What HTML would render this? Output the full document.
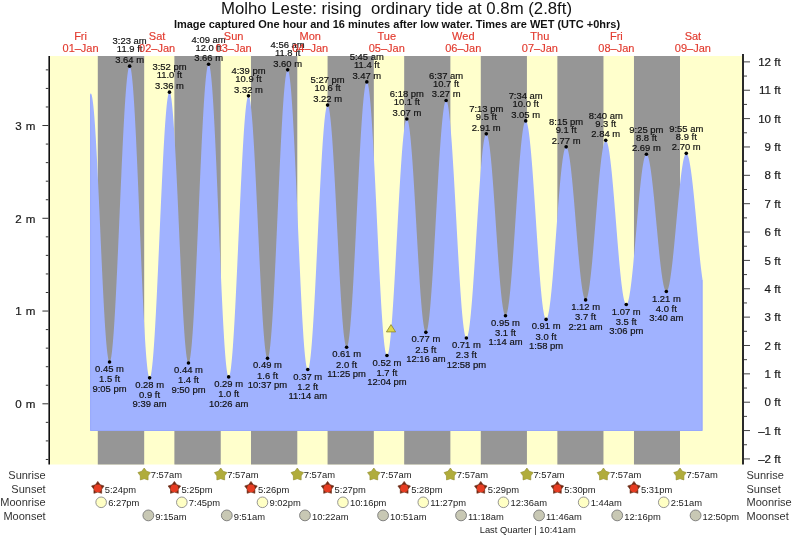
<!DOCTYPE html>
<html><head><meta charset="utf-8"><title>Molho Leste tide</title><style>html,body{margin:0;padding:0;background:#fff;}svg{display:block;}</style></head><body>
<svg width="793" height="537" viewBox="0 0 793 537">
<rect x="0" y="0" width="793" height="537" fill="#ffffff"/>
<rect x="50" y="56" width="692" height="408.5" fill="#ffffcc"/>
<rect x="97.79" y="56" width="46.40" height="408.5" fill="#969696"/>
<rect x="174.39" y="56" width="46.35" height="408.5" fill="#969696"/>
<rect x="250.99" y="56" width="46.30" height="408.5" fill="#969696"/>
<rect x="327.58" y="56" width="46.24" height="408.5" fill="#969696"/>
<rect x="404.18" y="56" width="46.19" height="408.5" fill="#969696"/>
<rect x="480.78" y="56" width="46.14" height="408.5" fill="#969696"/>
<rect x="557.37" y="56" width="46.09" height="408.5" fill="#969696"/>
<rect x="633.97" y="56" width="46.03" height="408.5" fill="#969696"/>
<path d="M90.14,431.0 L90.14,94.20 L90.54,93.61 L90.94,93.57 L91.34,94.10 L91.73,95.24 L92.13,96.96 L92.53,99.27 L92.93,102.15 L93.33,105.59 L93.73,109.57 L94.13,114.08 L94.52,119.09 L94.92,124.59 L95.32,130.55 L95.72,136.95 L96.12,143.74 L96.52,150.92 L96.92,158.43 L97.32,166.25 L97.71,174.35 L98.11,182.69 L98.51,191.22 L98.91,199.92 L99.31,208.74 L99.71,217.65 L100.11,226.60 L100.50,235.56 L100.90,244.49 L101.30,253.34 L101.70,262.07 L102.10,270.65 L102.50,279.05 L102.90,287.21 L103.30,295.11 L103.69,302.71 L104.09,309.97 L104.49,316.87 L104.89,323.38 L105.29,329.45 L105.69,335.08 L106.09,340.22 L106.48,344.87 L106.88,348.99 L107.28,352.58 L107.68,355.60 L108.08,358.06 L108.48,359.94 L108.88,361.23 L109.28,361.93 L109.67,362.03 L110.07,361.55 L110.47,360.49 L110.87,358.87 L111.27,356.69 L111.67,353.95 L112.07,350.67 L112.46,346.86 L112.86,342.53 L113.26,337.70 L113.66,332.40 L114.06,326.63 L114.46,320.43 L114.86,313.82 L115.26,306.81 L115.65,299.45 L116.05,291.76 L116.45,283.76 L116.85,275.49 L117.25,266.99 L117.65,258.28 L118.05,249.40 L118.44,240.38 L118.84,231.26 L119.24,222.07 L119.64,212.85 L120.04,203.64 L120.44,194.47 L120.84,185.37 L121.24,176.38 L121.63,167.54 L122.03,158.89 L122.43,150.44 L122.83,142.25 L123.23,134.33 L123.63,126.72 L124.03,119.46 L124.42,112.56 L124.82,106.05 L125.22,99.97 L125.62,94.32 L126.02,89.15 L126.42,84.45 L126.82,80.27 L127.22,76.60 L127.61,73.46 L128.01,70.88 L128.41,68.84 L128.81,67.38 L129.21,66.48 L129.61,66.15 L130.01,66.42 L130.40,67.30 L130.80,68.78 L131.20,70.87 L131.60,73.55 L132.00,76.81 L132.40,80.64 L132.80,85.03 L133.20,89.95 L133.59,95.39 L133.99,101.33 L134.39,107.75 L134.79,114.61 L135.19,121.89 L135.59,129.57 L135.99,137.60 L136.38,145.97 L136.78,154.64 L137.18,163.57 L137.58,172.74 L137.98,182.09 L138.38,191.60 L138.78,201.23 L139.17,210.95 L139.57,220.70 L139.97,230.46 L140.37,240.19 L140.77,249.85 L141.17,259.39 L141.57,268.79 L141.97,278.01 L142.36,287.01 L142.76,295.75 L143.16,304.20 L143.56,312.33 L143.96,320.10 L144.36,327.49 L144.76,334.47 L145.15,341.00 L145.55,347.07 L145.95,352.64 L146.35,357.70 L146.75,362.23 L147.15,366.21 L147.55,369.63 L147.95,372.46 L148.34,374.70 L148.74,376.35 L149.14,377.39 L149.54,377.81 L149.94,377.64 L150.34,376.90 L150.74,375.60 L151.13,373.73 L151.53,371.31 L151.93,368.35 L152.33,364.85 L152.73,360.84 L153.13,356.32 L153.53,351.32 L153.93,345.86 L154.32,339.95 L154.72,333.63 L155.12,326.91 L155.52,319.82 L155.92,312.40 L156.32,304.67 L156.72,296.66 L157.11,288.40 L157.51,279.93 L157.91,271.28 L158.31,262.49 L158.71,253.58 L159.11,244.61 L159.51,235.59 L159.91,226.57 L160.30,217.59 L160.70,208.67 L161.10,199.86 L161.50,191.19 L161.90,182.69 L162.30,174.41 L162.70,166.36 L163.09,158.59 L163.49,151.12 L163.89,143.99 L164.29,137.22 L164.69,130.84 L165.09,124.87 L165.49,119.35 L165.89,114.28 L166.28,109.70 L166.68,105.62 L167.08,102.05 L167.48,99.01 L167.88,96.52 L168.28,94.58 L168.68,93.19 L169.07,92.38 L169.47,92.13 L169.87,92.46 L170.27,93.37 L170.67,94.87 L171.07,96.94 L171.47,99.58 L171.87,102.77 L172.26,106.50 L172.66,110.76 L173.06,115.52 L173.46,120.77 L173.86,126.48 L174.26,132.63 L174.66,139.19 L175.05,146.13 L175.45,153.42 L175.85,161.04 L176.25,168.94 L176.65,177.10 L177.05,185.48 L177.45,194.03 L177.85,202.74 L178.24,211.55 L178.64,220.43 L179.04,229.34 L179.44,238.24 L179.84,247.10 L180.24,255.87 L180.64,264.52 L181.03,273.01 L181.43,281.30 L181.83,289.36 L182.23,297.16 L182.63,304.65 L183.03,311.80 L183.43,318.60 L183.83,324.99 L184.22,330.97 L184.62,336.50 L185.02,341.55 L185.42,346.12 L185.82,350.16 L186.22,353.68 L186.62,356.65 L187.01,359.07 L187.41,360.91 L187.81,362.17 L188.21,362.86 L188.61,362.95 L189.01,362.47 L189.41,361.41 L189.81,359.79 L190.20,357.59 L190.60,354.84 L191.00,351.55 L191.40,347.72 L191.80,343.38 L192.20,338.53 L192.60,333.20 L192.99,327.41 L193.39,321.18 L193.79,314.54 L194.19,307.50 L194.59,300.10 L194.99,292.37 L195.39,284.33 L195.79,276.03 L196.18,267.48 L196.58,258.72 L196.98,249.78 L197.38,240.71 L197.78,231.54 L198.18,222.29 L198.58,213.01 L198.97,203.73 L199.37,194.50 L199.77,185.33 L200.17,176.28 L200.57,167.37 L200.97,158.63 L201.37,150.11 L201.76,141.84 L202.16,133.84 L202.56,126.15 L202.96,118.80 L203.36,111.82 L203.76,105.23 L204.16,99.06 L204.56,93.33 L204.95,88.06 L205.35,83.29 L205.75,79.01 L206.15,75.25 L206.55,72.03 L206.95,69.36 L207.35,67.24 L207.74,65.69 L208.14,64.71 L208.54,64.31 L208.94,64.49 L209.34,65.29 L209.74,66.69 L210.14,68.69 L210.54,71.28 L210.93,74.46 L211.33,78.20 L211.73,82.51 L212.13,87.35 L212.53,92.71 L212.93,98.58 L213.33,104.92 L213.72,111.71 L214.12,118.92 L214.52,126.54 L214.92,134.52 L215.32,142.83 L215.72,151.45 L216.12,160.34 L216.52,169.47 L216.91,178.79 L217.31,188.28 L217.71,197.90 L218.11,207.60 L218.51,217.36 L218.91,227.12 L219.31,236.86 L219.70,246.54 L220.10,256.12 L220.50,265.56 L220.90,274.82 L221.30,283.87 L221.70,292.67 L222.10,301.20 L222.50,309.40 L222.89,317.26 L223.29,324.75 L223.69,331.82 L224.09,338.46 L224.49,344.65 L224.89,350.34 L225.29,355.53 L225.68,360.20 L226.08,364.32 L226.48,367.87 L226.88,370.86 L227.28,373.25 L227.68,375.05 L228.08,376.25 L228.48,376.83 L228.87,376.82 L229.27,376.24 L229.67,375.10 L230.07,373.41 L230.47,371.17 L230.87,368.39 L231.27,365.09 L231.66,361.28 L232.06,356.96 L232.46,352.17 L232.86,346.91 L233.26,341.21 L233.66,335.10 L234.06,328.59 L234.46,321.71 L234.85,314.49 L235.25,306.96 L235.65,299.15 L236.05,291.09 L236.45,282.81 L236.85,274.34 L237.25,265.73 L237.64,256.99 L238.04,248.18 L238.44,239.32 L238.84,230.44 L239.24,221.59 L239.64,212.80 L240.04,204.10 L240.44,195.53 L240.83,187.12 L241.23,178.91 L241.63,170.93 L242.03,163.21 L242.43,155.78 L242.83,148.68 L243.23,141.92 L243.62,135.54 L244.02,129.56 L244.42,124.01 L244.82,118.91 L245.22,114.27 L245.62,110.12 L246.02,106.48 L246.42,103.35 L246.81,100.75 L247.21,98.70 L247.61,97.19 L248.01,96.24 L248.41,95.85 L248.81,96.02 L249.21,96.76 L249.60,98.06 L250.00,99.92 L250.40,102.33 L250.80,105.28 L251.20,108.76 L251.60,112.75 L252.00,117.24 L252.40,122.20 L252.79,127.62 L253.19,133.47 L253.59,139.72 L253.99,146.35 L254.39,153.33 L254.79,160.63 L255.19,168.22 L255.58,176.06 L255.98,184.12 L256.38,192.37 L256.78,200.77 L257.18,209.28 L257.58,217.87 L257.98,226.50 L258.38,235.14 L258.77,243.74 L259.17,252.26 L259.57,260.68 L259.97,268.95 L260.37,277.04 L260.77,284.92 L261.17,292.54 L261.56,299.88 L261.96,306.91 L262.36,313.59 L262.76,319.89 L263.16,325.80 L263.56,331.27 L263.96,336.30 L264.36,340.85 L264.75,344.91 L265.15,348.46 L265.55,351.48 L265.95,353.97 L266.35,355.90 L266.75,357.28 L267.15,358.10 L267.54,358.35 L267.94,358.03 L268.34,357.16 L268.74,355.74 L269.14,353.77 L269.54,351.26 L269.94,348.22 L270.33,344.66 L270.73,340.59 L271.13,336.04 L271.53,331.02 L271.93,325.54 L272.33,319.64 L272.73,313.32 L273.13,306.63 L273.52,299.57 L273.92,292.19 L274.32,284.50 L274.72,276.54 L275.12,268.34 L275.52,259.93 L275.92,251.35 L276.31,242.62 L276.71,233.77 L277.11,224.86 L277.51,215.90 L277.91,206.93 L278.31,198.00 L278.71,189.12 L279.11,180.34 L279.50,171.69 L279.90,163.21 L280.30,154.92 L280.70,146.86 L281.10,139.06 L281.50,131.56 L281.90,124.36 L282.29,117.52 L282.69,111.05 L283.09,104.98 L283.49,99.33 L283.89,94.12 L284.29,89.38 L284.69,85.12 L285.09,81.36 L285.48,78.11 L285.88,75.38 L286.28,73.20 L286.68,71.55 L287.08,70.46 L287.48,69.92 L287.88,69.95 L288.27,70.55 L288.67,71.73 L289.07,73.49 L289.47,75.81 L289.87,78.70 L290.27,82.13 L290.67,86.09 L291.07,90.57 L291.46,95.56 L291.86,101.03 L292.26,106.95 L292.66,113.32 L293.06,120.10 L293.46,127.26 L293.86,134.79 L294.25,142.64 L294.65,150.80 L295.05,159.22 L295.45,167.87 L295.85,176.73 L296.25,185.75 L296.65,194.91 L297.05,204.16 L297.44,213.47 L297.84,222.81 L298.24,232.13 L298.64,241.41 L299.04,250.60 L299.44,259.67 L299.84,268.59 L300.23,277.31 L300.63,285.81 L301.03,294.06 L301.43,302.01 L301.83,309.65 L302.23,316.94 L302.63,323.84 L303.03,330.35 L303.42,336.42 L303.82,342.04 L304.22,347.19 L304.62,351.84 L305.02,355.97 L305.42,359.58 L305.82,362.65 L306.21,365.15 L306.61,367.10 L307.01,368.47 L307.41,369.26 L307.81,369.47 L308.21,369.14 L308.61,368.28 L309.01,366.89 L309.40,364.99 L309.80,362.58 L310.20,359.67 L310.60,356.28 L311.00,352.40 L311.40,348.07 L311.80,343.30 L312.19,338.10 L312.59,332.51 L312.99,326.53 L313.39,320.19 L313.79,313.53 L314.19,306.56 L314.59,299.32 L314.99,291.83 L315.38,284.12 L315.78,276.22 L316.18,268.17 L316.58,259.99 L316.98,251.73 L317.38,243.41 L317.78,235.06 L318.17,226.72 L318.57,218.42 L318.97,210.20 L319.37,202.09 L319.77,194.12 L320.17,186.32 L320.57,178.72 L320.97,171.36 L321.36,164.26 L321.76,157.45 L322.16,150.96 L322.56,144.81 L322.96,139.04 L323.36,133.65 L323.76,128.68 L324.15,124.14 L324.55,120.05 L324.95,116.43 L325.35,113.30 L325.75,110.65 L326.15,108.52 L326.55,106.89 L326.95,105.79 L327.34,105.21 L327.74,105.15 L328.14,105.63 L328.54,106.62 L328.94,108.13 L329.34,110.15 L329.74,112.68 L330.13,115.69 L330.53,119.19 L330.93,123.14 L331.33,127.55 L331.73,132.38 L332.13,137.61 L332.53,143.23 L332.92,149.21 L333.32,155.52 L333.72,162.14 L334.12,169.04 L334.52,176.18 L334.92,183.54 L335.32,191.08 L335.72,198.78 L336.11,206.59 L336.51,214.49 L336.91,222.44 L337.31,230.40 L337.71,238.35 L338.11,246.24 L338.51,254.05 L338.90,261.74 L339.30,269.27 L339.70,276.61 L340.10,283.74 L340.50,290.62 L340.90,297.22 L341.30,303.51 L341.70,309.47 L342.09,315.06 L342.49,320.27 L342.89,325.08 L343.29,329.45 L343.69,333.38 L344.09,336.84 L344.49,339.83 L344.88,342.32 L345.28,344.31 L345.68,345.79 L346.08,346.75 L346.48,347.19 L346.88,347.10 L347.28,346.51 L347.68,345.41 L348.07,343.81 L348.47,341.71 L348.87,339.12 L349.27,336.05 L349.67,332.52 L350.07,328.53 L350.47,324.10 L350.86,319.26 L351.26,314.01 L351.66,308.38 L352.06,302.38 L352.46,296.06 L352.86,289.41 L353.26,282.48 L353.66,275.29 L354.05,267.87 L354.45,260.24 L354.85,252.43 L355.25,244.48 L355.65,236.41 L356.05,228.26 L356.45,220.06 L356.84,211.84 L357.24,203.63 L357.64,195.46 L358.04,187.36 L358.44,179.36 L358.84,171.51 L359.24,163.82 L359.64,156.32 L360.03,149.05 L360.43,142.02 L360.83,135.28 L361.23,128.84 L361.63,122.74 L362.03,116.98 L362.43,111.60 L362.82,106.62 L363.22,102.05 L363.62,97.91 L364.02,94.22 L364.42,91.00 L364.82,88.25 L365.22,85.98 L365.62,84.21 L366.01,82.94 L366.41,82.18 L366.81,81.92 L367.21,82.19 L367.61,82.98 L368.01,84.30 L368.41,86.13 L368.80,88.48 L369.20,91.33 L369.60,94.67 L370.00,98.50 L370.40,102.78 L370.80,107.52 L371.20,112.68 L371.60,118.26 L371.99,124.22 L372.39,130.55 L372.79,137.22 L373.19,144.20 L373.59,151.48 L373.99,159.01 L374.39,166.77 L374.78,174.73 L375.18,182.87 L375.58,191.14 L375.98,199.52 L376.38,207.97 L376.78,216.46 L377.18,224.97 L377.58,233.45 L377.97,241.87 L378.37,250.20 L378.77,258.41 L379.17,266.47 L379.57,274.35 L379.97,282.01 L380.37,289.42 L380.76,296.56 L381.16,303.40 L381.56,309.92 L381.96,316.08 L382.36,321.86 L382.76,327.25 L383.16,332.22 L383.56,336.75 L383.95,340.82 L384.35,344.43 L384.75,347.54 L385.15,350.16 L385.55,352.27 L385.95,353.87 L386.35,354.94 L386.74,355.49 L387.14,355.51 L387.54,355.06 L387.94,354.14 L388.34,352.76 L388.74,350.92 L389.14,348.63 L389.54,345.89 L389.93,342.73 L390.33,339.14 L390.73,335.16 L391.13,330.78 L391.53,326.03 L391.93,320.94 L392.33,315.50 L392.72,309.76 L393.12,303.73 L393.52,297.44 L393.92,290.91 L394.32,284.17 L394.72,277.24 L395.12,270.15 L395.51,262.93 L395.91,255.61 L396.31,248.22 L396.71,240.78 L397.11,233.33 L397.51,225.90 L397.91,218.51 L398.31,211.19 L398.70,203.98 L399.10,196.90 L399.50,189.99 L399.90,183.26 L400.30,176.74 L400.70,170.46 L401.10,164.45 L401.49,158.73 L401.89,153.32 L402.29,148.24 L402.69,143.52 L403.09,139.17 L403.49,135.21 L403.89,131.65 L404.29,128.51 L404.68,125.81 L405.08,123.54 L405.48,121.73 L405.88,120.38 L406.28,119.49 L406.68,119.06 L407.08,119.11 L407.47,119.62 L407.87,120.58 L408.27,122.01 L408.67,123.88 L409.07,126.19 L409.47,128.93 L409.87,132.09 L410.27,135.66 L410.66,139.62 L411.06,143.95 L411.46,148.63 L411.86,153.65 L412.26,158.98 L412.66,164.60 L413.06,170.48 L413.45,176.60 L413.85,182.93 L414.25,189.45 L414.65,196.13 L415.05,202.93 L415.45,209.84 L415.85,216.81 L416.25,223.82 L416.64,230.84 L417.04,237.83 L417.44,244.78 L417.84,251.64 L418.24,258.39 L418.64,264.99 L419.04,271.43 L419.43,277.67 L419.83,283.68 L420.23,289.45 L420.63,294.93 L421.03,300.12 L421.43,304.99 L421.83,309.51 L422.23,313.67 L422.62,317.44 L423.02,320.83 L423.42,323.79 L423.82,326.34 L424.22,328.45 L424.62,330.11 L425.02,331.32 L425.41,332.08 L425.81,332.37 L426.21,332.21 L426.61,331.61 L427.01,330.56 L427.41,329.08 L427.81,327.17 L428.21,324.83 L428.60,322.08 L429.00,318.93 L429.40,315.39 L429.80,311.46 L430.20,307.18 L430.60,302.54 L431.00,297.58 L431.39,292.30 L431.79,286.74 L432.19,280.91 L432.59,274.83 L432.99,268.53 L433.39,262.03 L433.79,255.35 L434.19,248.53 L434.58,241.58 L434.98,234.54 L435.38,227.42 L435.78,220.27 L436.18,213.10 L436.58,205.94 L436.98,198.82 L437.37,191.78 L437.77,184.82 L438.17,177.99 L438.57,171.30 L438.97,164.78 L439.37,158.47 L439.77,152.37 L440.17,146.52 L440.56,140.94 L440.96,135.64 L441.36,130.65 L441.76,126.00 L442.16,121.68 L442.56,117.73 L442.96,114.16 L443.35,110.98 L443.75,108.20 L444.15,105.84 L444.55,103.89 L444.95,102.38 L445.35,101.30 L445.75,100.67 L446.15,100.48 L446.54,100.73 L446.94,101.44 L447.34,102.60 L447.74,104.21 L448.14,106.25 L448.54,108.73 L448.94,111.63 L449.33,114.94 L449.73,118.64 L450.13,122.74 L450.53,127.20 L450.93,132.01 L451.33,137.16 L451.73,142.62 L452.13,148.38 L452.52,154.40 L452.92,160.67 L453.32,167.17 L453.72,173.87 L454.12,180.73 L454.52,187.75 L454.92,194.89 L455.31,202.11 L455.71,209.41 L456.11,216.74 L456.51,224.08 L456.91,231.40 L457.31,238.68 L457.71,245.88 L458.10,252.98 L458.50,259.95 L458.90,266.77 L459.30,273.40 L459.70,279.82 L460.10,286.02 L460.50,291.96 L460.90,297.62 L461.29,302.98 L461.69,308.02 L462.09,312.72 L462.49,317.06 L462.89,321.03 L463.29,324.61 L463.69,327.79 L464.08,330.55 L464.48,332.88 L464.88,334.79 L465.28,336.24 L465.68,337.26 L466.08,337.82 L466.48,337.93 L466.88,337.62 L467.27,336.91 L467.67,335.80 L468.07,334.30 L468.47,332.41 L468.87,330.14 L469.27,327.50 L469.67,324.49 L470.06,321.14 L470.46,317.45 L470.86,313.43 L471.26,309.12 L471.66,304.51 L472.06,299.63 L472.46,294.50 L472.86,289.14 L473.25,283.57 L473.65,277.81 L474.05,271.89 L474.45,265.82 L474.85,259.64 L475.25,253.36 L475.65,247.01 L476.04,240.62 L476.44,234.21 L476.84,227.81 L477.24,221.44 L477.64,215.12 L478.04,208.89 L478.44,202.77 L478.84,196.77 L479.23,190.93 L479.63,185.27 L480.03,179.81 L480.43,174.57 L480.83,169.57 L481.23,164.83 L481.63,160.38 L482.02,156.22 L482.42,152.37 L482.82,148.86 L483.22,145.69 L483.62,142.87 L484.02,140.42 L484.42,138.35 L484.82,136.67 L485.21,135.37 L485.61,134.47 L486.01,133.98 L486.41,133.88 L486.81,134.18 L487.21,134.86 L487.61,135.92 L488.00,137.37 L488.40,139.18 L488.80,141.36 L489.20,143.90 L489.60,146.78 L490.00,149.99 L490.40,153.52 L490.80,157.35 L491.19,161.47 L491.59,165.87 L491.99,170.51 L492.39,175.38 L492.79,180.46 L493.19,185.73 L493.59,191.17 L493.98,196.75 L494.38,202.45 L494.78,208.25 L495.18,214.12 L495.58,220.03 L495.98,225.96 L496.38,231.89 L496.78,237.78 L497.17,243.62 L497.57,249.38 L497.97,255.04 L498.37,260.57 L498.77,265.94 L499.17,271.14 L499.57,276.14 L499.96,280.92 L500.36,285.47 L500.76,289.75 L501.16,293.76 L501.56,297.48 L501.96,300.88 L502.36,303.96 L502.76,306.70 L503.15,309.10 L503.55,311.13 L503.95,312.80 L504.35,314.09 L504.75,315.01 L505.15,315.53 L505.55,315.67 L505.94,315.44 L506.34,314.83 L506.74,313.84 L507.14,312.49 L507.54,310.78 L507.94,308.71 L508.34,306.30 L508.74,303.55 L509.13,300.47 L509.53,297.07 L509.93,293.37 L510.33,289.38 L510.73,285.12 L511.13,280.61 L511.53,275.85 L511.92,270.87 L512.32,265.69 L512.72,260.33 L513.12,254.80 L513.52,249.14 L513.92,243.36 L514.32,237.48 L514.72,231.52 L515.11,225.52 L515.51,219.49 L515.91,213.45 L516.31,207.43 L516.71,201.46 L517.11,195.55 L517.51,189.72 L517.90,184.01 L518.30,178.42 L518.70,172.99 L519.10,167.74 L519.50,162.68 L519.90,157.83 L520.30,153.21 L520.69,148.85 L521.09,144.75 L521.49,140.93 L521.89,137.41 L522.29,134.21 L522.69,131.32 L523.09,128.77 L523.49,126.56 L523.88,124.71 L524.28,123.21 L524.68,122.08 L525.08,121.32 L525.48,120.94 L525.88,120.92 L526.28,121.28 L526.67,122.01 L527.07,123.12 L527.47,124.58 L527.87,126.41 L528.27,128.59 L528.67,131.11 L529.07,133.97 L529.47,137.15 L529.86,140.65 L530.26,144.44 L530.66,148.52 L531.06,152.87 L531.46,157.47 L531.86,162.31 L532.26,167.36 L532.65,172.62 L533.05,178.05 L533.45,183.64 L533.85,189.37 L534.25,195.22 L534.65,201.15 L535.05,207.16 L535.45,213.22 L535.84,219.31 L536.24,225.39 L536.64,231.46 L537.04,237.49 L537.44,243.45 L537.84,249.32 L538.24,255.08 L538.63,260.71 L539.03,266.19 L539.43,271.50 L539.83,276.61 L540.23,281.51 L540.63,286.17 L541.03,290.59 L541.43,294.75 L541.82,298.62 L542.22,302.20 L542.62,305.47 L543.02,308.42 L543.42,311.03 L543.82,313.30 L544.22,315.23 L544.61,316.79 L545.01,317.99 L545.41,318.83 L545.81,319.29 L546.21,319.38 L546.61,319.12 L547.01,318.53 L547.41,317.60 L547.80,316.34 L548.20,314.76 L548.60,312.86 L549.00,310.65 L549.40,308.13 L549.80,305.33 L550.20,302.24 L550.59,298.88 L550.99,295.26 L551.39,291.40 L551.79,287.32 L552.19,283.02 L552.59,278.53 L552.99,273.86 L553.39,269.03 L553.78,264.06 L554.18,258.97 L554.58,253.77 L554.98,248.50 L555.38,243.17 L555.78,237.80 L556.18,232.41 L556.57,227.02 L556.97,221.66 L557.37,216.34 L557.77,211.09 L558.17,205.92 L558.57,200.86 L558.97,195.93 L559.37,191.14 L559.76,186.51 L560.16,182.07 L560.56,177.83 L560.96,173.80 L561.36,170.00 L561.76,166.45 L562.16,163.16 L562.55,160.15 L562.95,157.42 L563.35,154.98 L563.75,152.85 L564.15,151.03 L564.55,149.54 L564.95,148.37 L565.35,147.53 L565.74,147.02 L566.14,146.85 L566.54,147.01 L566.94,147.49 L567.34,148.28 L567.74,149.38 L568.14,150.79 L568.53,152.49 L568.93,154.49 L569.33,156.78 L569.73,159.34 L570.13,162.17 L570.53,165.25 L570.93,168.58 L571.33,172.13 L571.72,175.89 L572.12,179.85 L572.52,183.99 L572.92,188.29 L573.32,192.74 L573.72,197.31 L574.12,201.99 L574.51,206.76 L574.91,211.61 L575.31,216.49 L575.71,221.41 L576.11,226.34 L576.51,231.25 L576.91,236.13 L577.31,240.96 L577.70,245.71 L578.10,250.38 L578.50,254.93 L578.90,259.35 L579.30,263.62 L579.70,267.72 L580.10,271.64 L580.49,275.36 L580.89,278.87 L581.29,282.15 L581.69,285.18 L582.09,287.95 L582.49,290.46 L582.89,292.69 L583.29,294.64 L583.68,296.28 L584.08,297.63 L584.48,298.67 L584.88,299.40 L585.28,299.81 L585.68,299.90 L586.08,299.69 L586.47,299.16 L586.87,298.34 L587.27,297.21 L587.67,295.78 L588.07,294.06 L588.47,292.05 L588.87,289.77 L589.26,287.21 L589.66,284.40 L590.06,281.34 L590.46,278.04 L590.86,274.52 L591.26,270.79 L591.66,266.87 L592.06,262.76 L592.45,258.49 L592.85,254.07 L593.25,249.52 L593.65,244.85 L594.05,240.09 L594.45,235.26 L594.85,230.36 L595.24,225.43 L595.64,220.47 L596.04,215.52 L596.44,210.58 L596.84,205.68 L597.24,200.83 L597.64,196.06 L598.04,191.38 L598.43,186.81 L598.83,182.37 L599.23,178.08 L599.63,173.95 L600.03,170.00 L600.43,166.24 L600.83,162.69 L601.22,159.36 L601.62,156.27 L602.02,153.42 L602.42,150.84 L602.82,148.51 L603.22,146.47 L603.62,144.71 L604.02,143.24 L604.41,142.07 L604.81,141.20 L605.21,140.64 L605.61,140.38 L606.01,140.43 L606.41,140.78 L606.81,141.44 L607.20,142.41 L607.60,143.67 L608.00,145.22 L608.40,147.06 L608.80,149.18 L609.20,151.58 L609.60,154.24 L610.00,157.15 L610.39,160.31 L610.79,163.69 L611.19,167.30 L611.59,171.11 L611.99,175.12 L612.39,179.30 L612.79,183.64 L613.18,188.12 L613.58,192.74 L613.98,197.46 L614.38,202.28 L614.78,207.17 L615.18,212.12 L615.58,217.11 L615.98,222.11 L616.37,227.12 L616.77,232.11 L617.17,237.07 L617.57,241.97 L617.97,246.80 L618.37,251.54 L618.77,256.17 L619.16,260.67 L619.56,265.03 L619.96,269.23 L620.36,273.26 L620.76,277.10 L621.16,280.74 L621.56,284.15 L621.96,287.34 L622.35,290.29 L622.75,292.98 L623.15,295.42 L623.55,297.58 L623.95,299.45 L624.35,301.05 L624.75,302.35 L625.14,303.35 L625.54,304.05 L625.94,304.45 L626.34,304.54 L626.74,304.34 L627.14,303.85 L627.54,303.07 L627.94,302.00 L628.33,300.66 L628.73,299.03 L629.13,297.15 L629.53,294.99 L629.93,292.59 L630.33,289.94 L630.73,287.06 L631.12,283.95 L631.52,280.64 L631.92,277.12 L632.32,273.43 L632.72,269.56 L633.12,265.54 L633.52,261.37 L633.92,257.09 L634.31,252.69 L634.71,248.21 L635.11,243.65 L635.51,239.04 L635.91,234.40 L636.31,229.73 L636.71,225.06 L637.10,220.41 L637.50,215.79 L637.90,211.23 L638.30,206.73 L638.70,202.33 L639.10,198.03 L639.50,193.85 L639.90,189.80 L640.29,185.91 L640.69,182.19 L641.09,178.65 L641.49,175.31 L641.89,172.17 L642.29,169.26 L642.69,166.58 L643.08,164.14 L643.48,161.95 L643.88,160.03 L644.28,158.37 L644.68,156.99 L645.08,155.89 L645.48,155.07 L645.88,154.53 L646.27,154.29 L646.67,154.34 L647.07,154.65 L647.47,155.23 L647.87,156.09 L648.27,157.20 L648.67,158.58 L649.06,160.21 L649.46,162.08 L649.86,164.20 L650.26,166.55 L650.66,169.12 L651.06,171.90 L651.46,174.88 L651.85,178.06 L652.25,181.41 L652.65,184.92 L653.05,188.59 L653.45,192.39 L653.85,196.31 L654.25,200.33 L654.65,204.45 L655.04,208.64 L655.44,212.88 L655.84,217.16 L656.24,221.47 L656.64,225.78 L657.04,230.08 L657.44,234.35 L657.83,238.58 L658.23,242.75 L658.63,246.83 L659.03,250.83 L659.43,254.71 L659.83,258.47 L660.23,262.08 L660.63,265.55 L661.02,268.84 L661.42,271.95 L661.82,274.87 L662.22,277.59 L662.62,280.09 L663.02,282.36 L663.42,284.40 L663.81,286.19 L664.21,287.74 L664.61,289.03 L665.01,290.06 L665.41,290.82 L665.81,291.32 L666.21,291.55 L666.61,291.50 L667.00,291.18 L667.40,290.59 L667.80,289.74 L668.20,288.61 L668.60,287.23 L669.00,285.59 L669.40,283.70 L669.79,281.57 L670.19,279.21 L670.59,276.62 L670.99,273.82 L671.39,270.81 L671.79,267.62 L672.19,264.24 L672.59,260.71 L672.98,257.02 L673.38,253.19 L673.78,249.24 L674.18,245.19 L674.58,241.05 L674.98,236.83 L675.38,232.56 L675.77,228.25 L676.17,223.91 L676.57,219.57 L676.97,215.24 L677.37,210.94 L677.77,206.69 L678.17,202.49 L678.57,198.38 L678.96,194.36 L679.36,190.45 L679.76,186.67 L680.16,183.02 L680.56,179.54 L680.96,176.22 L681.36,173.09 L681.75,170.15 L682.15,167.42 L682.55,164.90 L682.95,162.61 L683.35,160.56 L683.75,158.75 L684.15,157.20 L684.55,155.90 L684.94,154.86 L685.34,154.09 L685.74,153.59 L686.14,153.36 L686.54,153.41 L686.94,153.71 L687.34,154.27 L687.73,155.09 L688.13,156.16 L688.53,157.48 L688.93,159.05 L689.33,160.86 L689.73,162.90 L690.13,165.16 L690.53,167.65 L690.92,170.33 L691.32,173.22 L691.72,176.30 L692.12,179.55 L692.52,182.96 L692.92,186.53 L693.32,190.24 L693.71,194.07 L694.11,198.01 L694.51,202.05 L694.91,206.17 L695.31,210.35 L695.71,214.59 L696.11,218.86 L696.51,223.16 L696.90,227.45 L697.30,231.74 L697.70,236.00 L698.10,240.21 L698.50,244.37 L698.90,248.46 L699.30,252.45 L699.69,256.34 L700.09,260.12 L700.49,263.76 L700.89,267.26 L701.29,270.60 L701.69,273.77 L702.09,276.76 L702.49,279.56 L702.49,431.0 Z" fill="#a0b2ff"/>
<path d="M90.64,94.70 V430.5 H701.99 V280.06" fill="none" stroke="#97a8fc" stroke-width="1"/>
<circle cx="109.54" cy="362.06" r="1.8" fill="#000"/>
<circle cx="129.63" cy="66.15" r="1.8" fill="#000"/>
<circle cx="149.62" cy="377.83" r="1.8" fill="#000"/>
<circle cx="169.45" cy="92.13" r="1.8" fill="#000"/>
<circle cx="188.48" cy="362.99" r="1.8" fill="#000"/>
<circle cx="208.62" cy="64.30" r="1.8" fill="#000"/>
<circle cx="228.66" cy="376.90" r="1.8" fill="#000"/>
<circle cx="248.49" cy="95.84" r="1.8" fill="#000"/>
<circle cx="267.52" cy="358.35" r="1.8" fill="#000"/>
<circle cx="287.66" cy="69.86" r="1.8" fill="#000"/>
<circle cx="307.76" cy="369.48" r="1.8" fill="#000"/>
<circle cx="327.58" cy="105.11" r="1.8" fill="#000"/>
<circle cx="346.61" cy="347.22" r="1.8" fill="#000"/>
<circle cx="366.81" cy="81.92" r="1.8" fill="#000"/>
<circle cx="386.96" cy="355.56" r="1.8" fill="#000"/>
<circle cx="406.84" cy="119.03" r="1.8" fill="#000"/>
<circle cx="425.87" cy="332.37" r="1.8" fill="#000"/>
<circle cx="446.12" cy="100.47" r="1.8" fill="#000"/>
<circle cx="466.37" cy="337.94" r="1.8" fill="#000"/>
<circle cx="486.30" cy="133.87" r="1.8" fill="#000"/>
<circle cx="505.49" cy="315.68" r="1.8" fill="#000"/>
<circle cx="525.69" cy="120.88" r="1.8" fill="#000"/>
<circle cx="546.10" cy="319.39" r="1.8" fill="#000"/>
<circle cx="566.14" cy="146.85" r="1.8" fill="#000"/>
<circle cx="585.60" cy="299.91" r="1.8" fill="#000"/>
<circle cx="605.74" cy="140.36" r="1.8" fill="#000"/>
<circle cx="626.26" cy="304.55" r="1.8" fill="#000"/>
<circle cx="646.41" cy="154.28" r="1.8" fill="#000"/>
<circle cx="666.34" cy="291.56" r="1.8" fill="#000"/>
<circle cx="686.27" cy="153.35" r="1.8" fill="#000"/>
<polygon points="391.00,324.6 386.40,331.9 395.60,331.9" fill="#e0d84a" stroke="#8a8430" stroke-width="0.8" stroke-linejoin="round"/>
<text x="109.54" y="372.16" font-family="Liberation Sans, Arial, sans-serif" font-size="9.45" fill="#111" stroke="#111" stroke-width="0.18" text-anchor="middle">0.45 m</text>
<text x="109.54" y="382.36" font-family="Liberation Sans, Arial, sans-serif" font-size="9.45" fill="#111" stroke="#111" stroke-width="0.18" text-anchor="middle">1.5 ft</text>
<text x="109.54" y="391.66" font-family="Liberation Sans, Arial, sans-serif" font-size="9.45" fill="#111" stroke="#111" stroke-width="0.18" text-anchor="middle">9:05 pm</text>
<text x="129.63" y="44.45" font-family="Liberation Sans, Arial, sans-serif" font-size="9.45" fill="#111" stroke="#111" stroke-width="0.18" text-anchor="middle">3:23 am</text>
<text x="129.63" y="52.45" font-family="Liberation Sans, Arial, sans-serif" font-size="9.45" fill="#111" stroke="#111" stroke-width="0.18" text-anchor="middle">11.9 ft</text>
<text x="129.63" y="63.05" font-family="Liberation Sans, Arial, sans-serif" font-size="9.45" fill="#111" stroke="#111" stroke-width="0.18" text-anchor="middle">3.64 m</text>
<text x="149.62" y="387.93" font-family="Liberation Sans, Arial, sans-serif" font-size="9.45" fill="#111" stroke="#111" stroke-width="0.18" text-anchor="middle">0.28 m</text>
<text x="149.62" y="398.13" font-family="Liberation Sans, Arial, sans-serif" font-size="9.45" fill="#111" stroke="#111" stroke-width="0.18" text-anchor="middle">0.9 ft</text>
<text x="149.62" y="407.43" font-family="Liberation Sans, Arial, sans-serif" font-size="9.45" fill="#111" stroke="#111" stroke-width="0.18" text-anchor="middle">9:39 am</text>
<text x="169.45" y="70.43" font-family="Liberation Sans, Arial, sans-serif" font-size="9.45" fill="#111" stroke="#111" stroke-width="0.18" text-anchor="middle">3:52 pm</text>
<text x="169.45" y="78.43" font-family="Liberation Sans, Arial, sans-serif" font-size="9.45" fill="#111" stroke="#111" stroke-width="0.18" text-anchor="middle">11.0 ft</text>
<text x="169.45" y="89.03" font-family="Liberation Sans, Arial, sans-serif" font-size="9.45" fill="#111" stroke="#111" stroke-width="0.18" text-anchor="middle">3.36 m</text>
<text x="188.48" y="373.09" font-family="Liberation Sans, Arial, sans-serif" font-size="9.45" fill="#111" stroke="#111" stroke-width="0.18" text-anchor="middle">0.44 m</text>
<text x="188.48" y="383.29" font-family="Liberation Sans, Arial, sans-serif" font-size="9.45" fill="#111" stroke="#111" stroke-width="0.18" text-anchor="middle">1.4 ft</text>
<text x="188.48" y="392.59" font-family="Liberation Sans, Arial, sans-serif" font-size="9.45" fill="#111" stroke="#111" stroke-width="0.18" text-anchor="middle">9:50 pm</text>
<text x="208.62" y="42.60" font-family="Liberation Sans, Arial, sans-serif" font-size="9.45" fill="#111" stroke="#111" stroke-width="0.18" text-anchor="middle">4:09 am</text>
<text x="208.62" y="50.60" font-family="Liberation Sans, Arial, sans-serif" font-size="9.45" fill="#111" stroke="#111" stroke-width="0.18" text-anchor="middle">12.0 ft</text>
<text x="208.62" y="61.20" font-family="Liberation Sans, Arial, sans-serif" font-size="9.45" fill="#111" stroke="#111" stroke-width="0.18" text-anchor="middle">3.66 m</text>
<text x="228.66" y="387.00" font-family="Liberation Sans, Arial, sans-serif" font-size="9.45" fill="#111" stroke="#111" stroke-width="0.18" text-anchor="middle">0.29 m</text>
<text x="228.66" y="397.20" font-family="Liberation Sans, Arial, sans-serif" font-size="9.45" fill="#111" stroke="#111" stroke-width="0.18" text-anchor="middle">1.0 ft</text>
<text x="228.66" y="406.50" font-family="Liberation Sans, Arial, sans-serif" font-size="9.45" fill="#111" stroke="#111" stroke-width="0.18" text-anchor="middle">10:26 am</text>
<text x="248.49" y="74.14" font-family="Liberation Sans, Arial, sans-serif" font-size="9.45" fill="#111" stroke="#111" stroke-width="0.18" text-anchor="middle">4:39 pm</text>
<text x="248.49" y="82.14" font-family="Liberation Sans, Arial, sans-serif" font-size="9.45" fill="#111" stroke="#111" stroke-width="0.18" text-anchor="middle">10.9 ft</text>
<text x="248.49" y="92.74" font-family="Liberation Sans, Arial, sans-serif" font-size="9.45" fill="#111" stroke="#111" stroke-width="0.18" text-anchor="middle">3.32 m</text>
<text x="267.52" y="368.45" font-family="Liberation Sans, Arial, sans-serif" font-size="9.45" fill="#111" stroke="#111" stroke-width="0.18" text-anchor="middle">0.49 m</text>
<text x="267.52" y="378.65" font-family="Liberation Sans, Arial, sans-serif" font-size="9.45" fill="#111" stroke="#111" stroke-width="0.18" text-anchor="middle">1.6 ft</text>
<text x="267.52" y="387.95" font-family="Liberation Sans, Arial, sans-serif" font-size="9.45" fill="#111" stroke="#111" stroke-width="0.18" text-anchor="middle">10:37 pm</text>
<text x="287.66" y="48.16" font-family="Liberation Sans, Arial, sans-serif" font-size="9.45" fill="#111" stroke="#111" stroke-width="0.18" text-anchor="middle">4:56 am</text>
<text x="287.66" y="56.16" font-family="Liberation Sans, Arial, sans-serif" font-size="9.45" fill="#111" stroke="#111" stroke-width="0.18" text-anchor="middle">11.8 ft</text>
<text x="287.66" y="66.76" font-family="Liberation Sans, Arial, sans-serif" font-size="9.45" fill="#111" stroke="#111" stroke-width="0.18" text-anchor="middle">3.60 m</text>
<text x="307.76" y="379.58" font-family="Liberation Sans, Arial, sans-serif" font-size="9.45" fill="#111" stroke="#111" stroke-width="0.18" text-anchor="middle">0.37 m</text>
<text x="307.76" y="389.78" font-family="Liberation Sans, Arial, sans-serif" font-size="9.45" fill="#111" stroke="#111" stroke-width="0.18" text-anchor="middle">1.2 ft</text>
<text x="307.76" y="399.08" font-family="Liberation Sans, Arial, sans-serif" font-size="9.45" fill="#111" stroke="#111" stroke-width="0.18" text-anchor="middle">11:14 am</text>
<text x="327.58" y="83.41" font-family="Liberation Sans, Arial, sans-serif" font-size="9.45" fill="#111" stroke="#111" stroke-width="0.18" text-anchor="middle">5:27 pm</text>
<text x="327.58" y="91.41" font-family="Liberation Sans, Arial, sans-serif" font-size="9.45" fill="#111" stroke="#111" stroke-width="0.18" text-anchor="middle">10.6 ft</text>
<text x="327.58" y="102.01" font-family="Liberation Sans, Arial, sans-serif" font-size="9.45" fill="#111" stroke="#111" stroke-width="0.18" text-anchor="middle">3.22 m</text>
<text x="346.61" y="357.32" font-family="Liberation Sans, Arial, sans-serif" font-size="9.45" fill="#111" stroke="#111" stroke-width="0.18" text-anchor="middle">0.61 m</text>
<text x="346.61" y="367.52" font-family="Liberation Sans, Arial, sans-serif" font-size="9.45" fill="#111" stroke="#111" stroke-width="0.18" text-anchor="middle">2.0 ft</text>
<text x="346.61" y="376.82" font-family="Liberation Sans, Arial, sans-serif" font-size="9.45" fill="#111" stroke="#111" stroke-width="0.18" text-anchor="middle">11:25 pm</text>
<text x="366.81" y="60.22" font-family="Liberation Sans, Arial, sans-serif" font-size="9.45" fill="#111" stroke="#111" stroke-width="0.18" text-anchor="middle">5:45 am</text>
<text x="366.81" y="68.22" font-family="Liberation Sans, Arial, sans-serif" font-size="9.45" fill="#111" stroke="#111" stroke-width="0.18" text-anchor="middle">11.4 ft</text>
<text x="366.81" y="78.82" font-family="Liberation Sans, Arial, sans-serif" font-size="9.45" fill="#111" stroke="#111" stroke-width="0.18" text-anchor="middle">3.47 m</text>
<text x="386.96" y="365.66" font-family="Liberation Sans, Arial, sans-serif" font-size="9.45" fill="#111" stroke="#111" stroke-width="0.18" text-anchor="middle">0.52 m</text>
<text x="386.96" y="375.86" font-family="Liberation Sans, Arial, sans-serif" font-size="9.45" fill="#111" stroke="#111" stroke-width="0.18" text-anchor="middle">1.7 ft</text>
<text x="386.96" y="385.16" font-family="Liberation Sans, Arial, sans-serif" font-size="9.45" fill="#111" stroke="#111" stroke-width="0.18" text-anchor="middle">12:04 pm</text>
<text x="406.84" y="97.33" font-family="Liberation Sans, Arial, sans-serif" font-size="9.45" fill="#111" stroke="#111" stroke-width="0.18" text-anchor="middle">6:18 pm</text>
<text x="406.84" y="105.33" font-family="Liberation Sans, Arial, sans-serif" font-size="9.45" fill="#111" stroke="#111" stroke-width="0.18" text-anchor="middle">10.1 ft</text>
<text x="406.84" y="115.93" font-family="Liberation Sans, Arial, sans-serif" font-size="9.45" fill="#111" stroke="#111" stroke-width="0.18" text-anchor="middle">3.07 m</text>
<text x="425.87" y="342.47" font-family="Liberation Sans, Arial, sans-serif" font-size="9.45" fill="#111" stroke="#111" stroke-width="0.18" text-anchor="middle">0.77 m</text>
<text x="425.87" y="352.67" font-family="Liberation Sans, Arial, sans-serif" font-size="9.45" fill="#111" stroke="#111" stroke-width="0.18" text-anchor="middle">2.5 ft</text>
<text x="425.87" y="361.97" font-family="Liberation Sans, Arial, sans-serif" font-size="9.45" fill="#111" stroke="#111" stroke-width="0.18" text-anchor="middle">12:16 am</text>
<text x="446.12" y="78.77" font-family="Liberation Sans, Arial, sans-serif" font-size="9.45" fill="#111" stroke="#111" stroke-width="0.18" text-anchor="middle">6:37 am</text>
<text x="446.12" y="86.77" font-family="Liberation Sans, Arial, sans-serif" font-size="9.45" fill="#111" stroke="#111" stroke-width="0.18" text-anchor="middle">10.7 ft</text>
<text x="446.12" y="97.37" font-family="Liberation Sans, Arial, sans-serif" font-size="9.45" fill="#111" stroke="#111" stroke-width="0.18" text-anchor="middle">3.27 m</text>
<text x="466.37" y="348.04" font-family="Liberation Sans, Arial, sans-serif" font-size="9.45" fill="#111" stroke="#111" stroke-width="0.18" text-anchor="middle">0.71 m</text>
<text x="466.37" y="358.24" font-family="Liberation Sans, Arial, sans-serif" font-size="9.45" fill="#111" stroke="#111" stroke-width="0.18" text-anchor="middle">2.3 ft</text>
<text x="466.37" y="367.54" font-family="Liberation Sans, Arial, sans-serif" font-size="9.45" fill="#111" stroke="#111" stroke-width="0.18" text-anchor="middle">12:58 pm</text>
<text x="486.30" y="112.17" font-family="Liberation Sans, Arial, sans-serif" font-size="9.45" fill="#111" stroke="#111" stroke-width="0.18" text-anchor="middle">7:13 pm</text>
<text x="486.30" y="120.17" font-family="Liberation Sans, Arial, sans-serif" font-size="9.45" fill="#111" stroke="#111" stroke-width="0.18" text-anchor="middle">9.5 ft</text>
<text x="486.30" y="130.77" font-family="Liberation Sans, Arial, sans-serif" font-size="9.45" fill="#111" stroke="#111" stroke-width="0.18" text-anchor="middle">2.91 m</text>
<text x="505.49" y="325.78" font-family="Liberation Sans, Arial, sans-serif" font-size="9.45" fill="#111" stroke="#111" stroke-width="0.18" text-anchor="middle">0.95 m</text>
<text x="505.49" y="335.98" font-family="Liberation Sans, Arial, sans-serif" font-size="9.45" fill="#111" stroke="#111" stroke-width="0.18" text-anchor="middle">3.1 ft</text>
<text x="505.49" y="345.28" font-family="Liberation Sans, Arial, sans-serif" font-size="9.45" fill="#111" stroke="#111" stroke-width="0.18" text-anchor="middle">1:14 am</text>
<text x="525.69" y="99.18" font-family="Liberation Sans, Arial, sans-serif" font-size="9.45" fill="#111" stroke="#111" stroke-width="0.18" text-anchor="middle">7:34 am</text>
<text x="525.69" y="107.18" font-family="Liberation Sans, Arial, sans-serif" font-size="9.45" fill="#111" stroke="#111" stroke-width="0.18" text-anchor="middle">10.0 ft</text>
<text x="525.69" y="117.78" font-family="Liberation Sans, Arial, sans-serif" font-size="9.45" fill="#111" stroke="#111" stroke-width="0.18" text-anchor="middle">3.05 m</text>
<text x="546.10" y="329.49" font-family="Liberation Sans, Arial, sans-serif" font-size="9.45" fill="#111" stroke="#111" stroke-width="0.18" text-anchor="middle">0.91 m</text>
<text x="546.10" y="339.69" font-family="Liberation Sans, Arial, sans-serif" font-size="9.45" fill="#111" stroke="#111" stroke-width="0.18" text-anchor="middle">3.0 ft</text>
<text x="546.10" y="348.99" font-family="Liberation Sans, Arial, sans-serif" font-size="9.45" fill="#111" stroke="#111" stroke-width="0.18" text-anchor="middle">1:58 pm</text>
<text x="566.14" y="125.15" font-family="Liberation Sans, Arial, sans-serif" font-size="9.45" fill="#111" stroke="#111" stroke-width="0.18" text-anchor="middle">8:15 pm</text>
<text x="566.14" y="133.15" font-family="Liberation Sans, Arial, sans-serif" font-size="9.45" fill="#111" stroke="#111" stroke-width="0.18" text-anchor="middle">9.1 ft</text>
<text x="566.14" y="143.75" font-family="Liberation Sans, Arial, sans-serif" font-size="9.45" fill="#111" stroke="#111" stroke-width="0.18" text-anchor="middle">2.77 m</text>
<text x="585.60" y="310.01" font-family="Liberation Sans, Arial, sans-serif" font-size="9.45" fill="#111" stroke="#111" stroke-width="0.18" text-anchor="middle">1.12 m</text>
<text x="585.60" y="320.21" font-family="Liberation Sans, Arial, sans-serif" font-size="9.45" fill="#111" stroke="#111" stroke-width="0.18" text-anchor="middle">3.7 ft</text>
<text x="585.60" y="329.51" font-family="Liberation Sans, Arial, sans-serif" font-size="9.45" fill="#111" stroke="#111" stroke-width="0.18" text-anchor="middle">2:21 am</text>
<text x="605.74" y="118.66" font-family="Liberation Sans, Arial, sans-serif" font-size="9.45" fill="#111" stroke="#111" stroke-width="0.18" text-anchor="middle">8:40 am</text>
<text x="605.74" y="126.66" font-family="Liberation Sans, Arial, sans-serif" font-size="9.45" fill="#111" stroke="#111" stroke-width="0.18" text-anchor="middle">9.3 ft</text>
<text x="605.74" y="137.26" font-family="Liberation Sans, Arial, sans-serif" font-size="9.45" fill="#111" stroke="#111" stroke-width="0.18" text-anchor="middle">2.84 m</text>
<text x="626.26" y="314.65" font-family="Liberation Sans, Arial, sans-serif" font-size="9.45" fill="#111" stroke="#111" stroke-width="0.18" text-anchor="middle">1.07 m</text>
<text x="626.26" y="324.85" font-family="Liberation Sans, Arial, sans-serif" font-size="9.45" fill="#111" stroke="#111" stroke-width="0.18" text-anchor="middle">3.5 ft</text>
<text x="626.26" y="334.15" font-family="Liberation Sans, Arial, sans-serif" font-size="9.45" fill="#111" stroke="#111" stroke-width="0.18" text-anchor="middle">3:06 pm</text>
<text x="646.41" y="132.58" font-family="Liberation Sans, Arial, sans-serif" font-size="9.45" fill="#111" stroke="#111" stroke-width="0.18" text-anchor="middle">9:25 pm</text>
<text x="646.41" y="140.58" font-family="Liberation Sans, Arial, sans-serif" font-size="9.45" fill="#111" stroke="#111" stroke-width="0.18" text-anchor="middle">8.8 ft</text>
<text x="646.41" y="151.18" font-family="Liberation Sans, Arial, sans-serif" font-size="9.45" fill="#111" stroke="#111" stroke-width="0.18" text-anchor="middle">2.69 m</text>
<text x="666.34" y="301.66" font-family="Liberation Sans, Arial, sans-serif" font-size="9.45" fill="#111" stroke="#111" stroke-width="0.18" text-anchor="middle">1.21 m</text>
<text x="666.34" y="311.86" font-family="Liberation Sans, Arial, sans-serif" font-size="9.45" fill="#111" stroke="#111" stroke-width="0.18" text-anchor="middle">4.0 ft</text>
<text x="666.34" y="321.16" font-family="Liberation Sans, Arial, sans-serif" font-size="9.45" fill="#111" stroke="#111" stroke-width="0.18" text-anchor="middle">3:40 am</text>
<text x="686.27" y="131.65" font-family="Liberation Sans, Arial, sans-serif" font-size="9.45" fill="#111" stroke="#111" stroke-width="0.18" text-anchor="middle">9:55 am</text>
<text x="686.27" y="139.65" font-family="Liberation Sans, Arial, sans-serif" font-size="9.45" fill="#111" stroke="#111" stroke-width="0.18" text-anchor="middle">8.9 ft</text>
<text x="686.27" y="150.25" font-family="Liberation Sans, Arial, sans-serif" font-size="9.45" fill="#111" stroke="#111" stroke-width="0.18" text-anchor="middle">2.70 m</text>
<rect x="48.4" y="56" width="1.6" height="408.5" fill="#111"/>
<rect x="742" y="54" width="2" height="410.5" fill="#2a2a2a"/>
<rect x="45.8" y="458.96" width="2.6" height="1" fill="#333"/>
<rect x="45.8" y="440.40" width="2.6" height="1" fill="#333"/>
<rect x="45.8" y="421.85" width="2.6" height="1" fill="#333"/>
<rect x="42.4" y="403.30" width="6" height="1" fill="#333"/>
<rect x="45.8" y="384.75" width="2.6" height="1" fill="#333"/>
<rect x="45.8" y="366.20" width="2.6" height="1" fill="#333"/>
<rect x="45.8" y="347.64" width="2.6" height="1" fill="#333"/>
<rect x="45.8" y="329.09" width="2.6" height="1" fill="#333"/>
<rect x="42.4" y="310.54" width="6" height="1" fill="#333"/>
<rect x="45.8" y="291.99" width="2.6" height="1" fill="#333"/>
<rect x="45.8" y="273.44" width="2.6" height="1" fill="#333"/>
<rect x="45.8" y="254.88" width="2.6" height="1" fill="#333"/>
<rect x="45.8" y="236.33" width="2.6" height="1" fill="#333"/>
<rect x="42.4" y="217.78" width="6" height="1" fill="#333"/>
<rect x="45.8" y="199.23" width="2.6" height="1" fill="#333"/>
<rect x="45.8" y="180.68" width="2.6" height="1" fill="#333"/>
<rect x="45.8" y="162.12" width="2.6" height="1" fill="#333"/>
<rect x="45.8" y="143.57" width="2.6" height="1" fill="#333"/>
<rect x="42.4" y="125.02" width="6" height="1" fill="#333"/>
<rect x="45.8" y="106.47" width="2.6" height="1" fill="#333"/>
<rect x="45.8" y="87.92" width="2.6" height="1" fill="#333"/>
<rect x="45.8" y="69.36" width="2.6" height="1" fill="#333"/>
<text x="35.5" y="408.10" font-family="Liberation Sans, Arial, sans-serif" font-size="11.6" fill="#1a1a1a" stroke="#1a1a1a" stroke-width="0.2" text-anchor="end" word-spacing="0.9">0 m</text>
<text x="35.5" y="315.34" font-family="Liberation Sans, Arial, sans-serif" font-size="11.6" fill="#1a1a1a" stroke="#1a1a1a" stroke-width="0.2" text-anchor="end" word-spacing="0.9">1 m</text>
<text x="35.5" y="222.58" font-family="Liberation Sans, Arial, sans-serif" font-size="11.6" fill="#1a1a1a" stroke="#1a1a1a" stroke-width="0.2" text-anchor="end" word-spacing="0.9">2 m</text>
<text x="35.5" y="129.82" font-family="Liberation Sans, Arial, sans-serif" font-size="11.6" fill="#1a1a1a" stroke="#1a1a1a" stroke-width="0.2" text-anchor="end" word-spacing="0.9">3 m</text>
<rect x="744" y="458.42" width="6" height="1" fill="#444"/>
<text x="780.7" y="463.02" font-family="Liberation Sans, Arial, sans-serif" font-size="11.6" fill="#1a1a1a" stroke="#1a1a1a" stroke-width="0.2" text-anchor="end">–2 ft</text>
<rect x="744" y="444.24" width="3" height="1" fill="#444"/>
<rect x="744" y="430.06" width="6" height="1" fill="#444"/>
<text x="780.7" y="434.66" font-family="Liberation Sans, Arial, sans-serif" font-size="11.6" fill="#1a1a1a" stroke="#1a1a1a" stroke-width="0.2" text-anchor="end">–1 ft</text>
<rect x="744" y="415.88" width="3" height="1" fill="#444"/>
<rect x="744" y="401.70" width="6" height="1" fill="#444"/>
<text x="780.7" y="406.30" font-family="Liberation Sans, Arial, sans-serif" font-size="11.6" fill="#1a1a1a" stroke="#1a1a1a" stroke-width="0.2" text-anchor="end">0 ft</text>
<rect x="744" y="387.52" width="3" height="1" fill="#444"/>
<rect x="744" y="373.34" width="6" height="1" fill="#444"/>
<text x="780.7" y="377.94" font-family="Liberation Sans, Arial, sans-serif" font-size="11.6" fill="#1a1a1a" stroke="#1a1a1a" stroke-width="0.2" text-anchor="end">1 ft</text>
<rect x="744" y="359.16" width="3" height="1" fill="#444"/>
<rect x="744" y="344.98" width="6" height="1" fill="#444"/>
<text x="780.7" y="349.58" font-family="Liberation Sans, Arial, sans-serif" font-size="11.6" fill="#1a1a1a" stroke="#1a1a1a" stroke-width="0.2" text-anchor="end">2 ft</text>
<rect x="744" y="330.80" width="3" height="1" fill="#444"/>
<rect x="744" y="316.62" width="6" height="1" fill="#444"/>
<text x="780.7" y="321.22" font-family="Liberation Sans, Arial, sans-serif" font-size="11.6" fill="#1a1a1a" stroke="#1a1a1a" stroke-width="0.2" text-anchor="end">3 ft</text>
<rect x="744" y="302.44" width="3" height="1" fill="#444"/>
<rect x="744" y="288.26" width="6" height="1" fill="#444"/>
<text x="780.7" y="292.86" font-family="Liberation Sans, Arial, sans-serif" font-size="11.6" fill="#1a1a1a" stroke="#1a1a1a" stroke-width="0.2" text-anchor="end">4 ft</text>
<rect x="744" y="274.08" width="3" height="1" fill="#444"/>
<rect x="744" y="259.90" width="6" height="1" fill="#444"/>
<text x="780.7" y="264.50" font-family="Liberation Sans, Arial, sans-serif" font-size="11.6" fill="#1a1a1a" stroke="#1a1a1a" stroke-width="0.2" text-anchor="end">5 ft</text>
<rect x="744" y="245.72" width="3" height="1" fill="#444"/>
<rect x="744" y="231.54" width="6" height="1" fill="#444"/>
<text x="780.7" y="236.14" font-family="Liberation Sans, Arial, sans-serif" font-size="11.6" fill="#1a1a1a" stroke="#1a1a1a" stroke-width="0.2" text-anchor="end">6 ft</text>
<rect x="744" y="217.36" width="3" height="1" fill="#444"/>
<rect x="744" y="203.18" width="6" height="1" fill="#444"/>
<text x="780.7" y="207.78" font-family="Liberation Sans, Arial, sans-serif" font-size="11.6" fill="#1a1a1a" stroke="#1a1a1a" stroke-width="0.2" text-anchor="end">7 ft</text>
<rect x="744" y="189.00" width="3" height="1" fill="#444"/>
<rect x="744" y="174.82" width="6" height="1" fill="#444"/>
<text x="780.7" y="179.42" font-family="Liberation Sans, Arial, sans-serif" font-size="11.6" fill="#1a1a1a" stroke="#1a1a1a" stroke-width="0.2" text-anchor="end">8 ft</text>
<rect x="744" y="160.64" width="3" height="1" fill="#444"/>
<rect x="744" y="146.46" width="6" height="1" fill="#444"/>
<text x="780.7" y="151.06" font-family="Liberation Sans, Arial, sans-serif" font-size="11.6" fill="#1a1a1a" stroke="#1a1a1a" stroke-width="0.2" text-anchor="end">9 ft</text>
<rect x="744" y="132.28" width="3" height="1" fill="#444"/>
<rect x="744" y="118.10" width="6" height="1" fill="#444"/>
<text x="780.7" y="122.70" font-family="Liberation Sans, Arial, sans-serif" font-size="11.6" fill="#1a1a1a" stroke="#1a1a1a" stroke-width="0.2" text-anchor="end">10 ft</text>
<rect x="744" y="103.92" width="3" height="1" fill="#444"/>
<rect x="744" y="89.74" width="6" height="1" fill="#444"/>
<text x="780.7" y="94.34" font-family="Liberation Sans, Arial, sans-serif" font-size="11.6" fill="#1a1a1a" stroke="#1a1a1a" stroke-width="0.2" text-anchor="end">11 ft</text>
<rect x="744" y="75.56" width="3" height="1" fill="#444"/>
<rect x="744" y="61.38" width="6" height="1" fill="#444"/>
<text x="780.7" y="65.98" font-family="Liberation Sans, Arial, sans-serif" font-size="11.6" fill="#1a1a1a" stroke="#1a1a1a" stroke-width="0.2" text-anchor="end">12 ft</text>
<text x="80.57" y="39.9" font-family="Liberation Sans, Arial, sans-serif" font-size="11" fill="#e23a2e" stroke="#e23a2e" stroke-width="0.15" text-anchor="middle">Fri</text>
<text x="80.57" y="52" font-family="Liberation Sans, Arial, sans-serif" font-size="11" fill="#e23a2e" stroke="#e23a2e" stroke-width="0.15" text-anchor="middle">01–Jan</text>
<text x="157.11" y="39.9" font-family="Liberation Sans, Arial, sans-serif" font-size="11" fill="#e23a2e" stroke="#e23a2e" stroke-width="0.15" text-anchor="middle">Sat</text>
<text x="157.11" y="52" font-family="Liberation Sans, Arial, sans-serif" font-size="11" fill="#e23a2e" stroke="#e23a2e" stroke-width="0.15" text-anchor="middle">02–Jan</text>
<text x="233.66" y="39.9" font-family="Liberation Sans, Arial, sans-serif" font-size="11" fill="#e23a2e" stroke="#e23a2e" stroke-width="0.15" text-anchor="middle">Sun</text>
<text x="233.66" y="52" font-family="Liberation Sans, Arial, sans-serif" font-size="11" fill="#e23a2e" stroke="#e23a2e" stroke-width="0.15" text-anchor="middle">03–Jan</text>
<text x="310.20" y="39.9" font-family="Liberation Sans, Arial, sans-serif" font-size="11" fill="#e23a2e" stroke="#e23a2e" stroke-width="0.15" text-anchor="middle">Mon</text>
<text x="310.20" y="52" font-family="Liberation Sans, Arial, sans-serif" font-size="11" fill="#e23a2e" stroke="#e23a2e" stroke-width="0.15" text-anchor="middle">04–Jan</text>
<text x="386.74" y="39.9" font-family="Liberation Sans, Arial, sans-serif" font-size="11" fill="#e23a2e" stroke="#e23a2e" stroke-width="0.15" text-anchor="middle">Tue</text>
<text x="386.74" y="52" font-family="Liberation Sans, Arial, sans-serif" font-size="11" fill="#e23a2e" stroke="#e23a2e" stroke-width="0.15" text-anchor="middle">05–Jan</text>
<text x="463.29" y="39.9" font-family="Liberation Sans, Arial, sans-serif" font-size="11" fill="#e23a2e" stroke="#e23a2e" stroke-width="0.15" text-anchor="middle">Wed</text>
<text x="463.29" y="52" font-family="Liberation Sans, Arial, sans-serif" font-size="11" fill="#e23a2e" stroke="#e23a2e" stroke-width="0.15" text-anchor="middle">06–Jan</text>
<text x="539.83" y="39.9" font-family="Liberation Sans, Arial, sans-serif" font-size="11" fill="#e23a2e" stroke="#e23a2e" stroke-width="0.15" text-anchor="middle">Thu</text>
<text x="539.83" y="52" font-family="Liberation Sans, Arial, sans-serif" font-size="11" fill="#e23a2e" stroke="#e23a2e" stroke-width="0.15" text-anchor="middle">07–Jan</text>
<text x="616.37" y="39.9" font-family="Liberation Sans, Arial, sans-serif" font-size="11" fill="#e23a2e" stroke="#e23a2e" stroke-width="0.15" text-anchor="middle">Fri</text>
<text x="616.37" y="52" font-family="Liberation Sans, Arial, sans-serif" font-size="11" fill="#e23a2e" stroke="#e23a2e" stroke-width="0.15" text-anchor="middle">08–Jan</text>
<text x="692.92" y="39.9" font-family="Liberation Sans, Arial, sans-serif" font-size="11" fill="#e23a2e" stroke="#e23a2e" stroke-width="0.15" text-anchor="middle">Sat</text>
<text x="692.92" y="52" font-family="Liberation Sans, Arial, sans-serif" font-size="11" fill="#e23a2e" stroke="#e23a2e" stroke-width="0.15" text-anchor="middle">09–Jan</text>
<text x="221.0" y="13.6" font-family="Liberation Sans, Arial, sans-serif" font-size="16.8" fill="#111" textLength="351" lengthAdjust="spacingAndGlyphs" xml:space="preserve">Molho Leste: rising  ordinary tide at 0.8m (2.8ft)</text>
<text x="173.9" y="27.6" font-family="Liberation Sans, Arial, sans-serif" font-size="10.7" font-weight="bold" fill="#111" textLength="446.2" lengthAdjust="spacingAndGlyphs">Image captured One hour and 16 minutes after low water. Times are WET (UTC +0hrs)</text>
<text x="45.6" y="478.9" font-family="Liberation Sans, Arial, sans-serif" font-size="11" fill="#333" text-anchor="end">Sunrise</text>
<text x="746.5" y="478.9" font-family="Liberation Sans, Arial, sans-serif" font-size="11" fill="#333">Sunrise</text>
<text x="45.6" y="492.8" font-family="Liberation Sans, Arial, sans-serif" font-size="11" fill="#333" text-anchor="end">Sunset</text>
<text x="746.5" y="492.8" font-family="Liberation Sans, Arial, sans-serif" font-size="11" fill="#333">Sunset</text>
<text x="45.6" y="506.3" font-family="Liberation Sans, Arial, sans-serif" font-size="11" fill="#333" text-anchor="end">Moonrise</text>
<text x="746.5" y="506.3" font-family="Liberation Sans, Arial, sans-serif" font-size="11" fill="#333">Moonrise</text>
<text x="45.6" y="519.7" font-family="Liberation Sans, Arial, sans-serif" font-size="11" fill="#333" text-anchor="end">Moonset</text>
<text x="746.5" y="519.7" font-family="Liberation Sans, Arial, sans-serif" font-size="11" fill="#333">Moonset</text>
<polygon points="144.20,468.00 146.60,471.29 150.48,472.56 148.09,475.86 148.08,479.94 144.20,478.69 140.32,479.94 140.31,475.86 137.92,472.56 141.79,471.29" fill="#b0ac3c" stroke="#8e8a2a" stroke-width="0.6" stroke-linejoin="miter"/><circle cx="144.20" cy="474.90" r="3.9" fill="#b0ac3c"/>
<text x="150.70" y="477.6" font-family="Liberation Sans, Arial, sans-serif" font-size="9.4" fill="#222">7:57am</text>
<polygon points="220.74,468.00 223.15,471.29 227.02,472.56 224.63,475.86 224.62,479.94 220.74,478.69 216.86,479.94 216.85,475.86 214.46,472.56 218.34,471.29" fill="#b0ac3c" stroke="#8e8a2a" stroke-width="0.6" stroke-linejoin="miter"/><circle cx="220.74" cy="474.90" r="3.9" fill="#b0ac3c"/>
<text x="227.24" y="477.6" font-family="Liberation Sans, Arial, sans-serif" font-size="9.4" fill="#222">7:57am</text>
<polygon points="297.28,468.00 299.69,471.29 303.56,472.56 301.18,475.86 301.16,479.94 297.28,478.69 293.41,479.94 293.39,475.86 291.01,472.56 294.88,471.29" fill="#b0ac3c" stroke="#8e8a2a" stroke-width="0.6" stroke-linejoin="miter"/><circle cx="297.28" cy="474.90" r="3.9" fill="#b0ac3c"/>
<text x="303.78" y="477.6" font-family="Liberation Sans, Arial, sans-serif" font-size="9.4" fill="#222">7:57am</text>
<polygon points="373.83,468.00 376.23,471.29 380.10,472.56 377.72,475.86 377.71,479.94 373.83,478.69 369.95,479.94 369.94,475.86 367.55,472.56 371.42,471.29" fill="#b0ac3c" stroke="#8e8a2a" stroke-width="0.6" stroke-linejoin="miter"/><circle cx="373.83" cy="474.90" r="3.9" fill="#b0ac3c"/>
<text x="380.33" y="477.6" font-family="Liberation Sans, Arial, sans-serif" font-size="9.4" fill="#222">7:57am</text>
<polygon points="450.37,468.00 452.78,471.29 456.65,472.56 454.26,475.86 454.25,479.94 450.37,478.69 446.49,479.94 446.48,475.86 444.09,472.56 447.97,471.29" fill="#b0ac3c" stroke="#8e8a2a" stroke-width="0.6" stroke-linejoin="miter"/><circle cx="450.37" cy="474.90" r="3.9" fill="#b0ac3c"/>
<text x="456.87" y="477.6" font-family="Liberation Sans, Arial, sans-serif" font-size="9.4" fill="#222">7:57am</text>
<polygon points="526.91,468.00 529.32,471.29 533.19,472.56 530.81,475.86 530.79,479.94 526.91,478.69 523.03,479.94 523.02,475.86 520.64,472.56 524.51,471.29" fill="#b0ac3c" stroke="#8e8a2a" stroke-width="0.6" stroke-linejoin="miter"/><circle cx="526.91" cy="474.90" r="3.9" fill="#b0ac3c"/>
<text x="533.41" y="477.6" font-family="Liberation Sans, Arial, sans-serif" font-size="9.4" fill="#222">7:57am</text>
<polygon points="603.46,468.00 605.86,471.29 609.73,472.56 607.35,475.86 607.34,479.94 603.46,478.69 599.58,479.94 599.57,475.86 597.18,472.56 601.05,471.29" fill="#b0ac3c" stroke="#8e8a2a" stroke-width="0.6" stroke-linejoin="miter"/><circle cx="603.46" cy="474.90" r="3.9" fill="#b0ac3c"/>
<text x="609.96" y="477.6" font-family="Liberation Sans, Arial, sans-serif" font-size="9.4" fill="#222">7:57am</text>
<polygon points="680.00,468.00 682.41,471.29 686.28,472.56 683.89,475.86 683.88,479.94 680.00,478.69 676.12,479.94 676.11,475.86 673.72,472.56 677.60,471.29" fill="#b0ac3c" stroke="#8e8a2a" stroke-width="0.6" stroke-linejoin="miter"/><circle cx="680.00" cy="474.90" r="3.9" fill="#b0ac3c"/>
<text x="686.50" y="477.6" font-family="Liberation Sans, Arial, sans-serif" font-size="9.4" fill="#222">7:57am</text>
<polygon points="97.79,481.40 100.20,484.69 104.07,485.96 101.69,489.26 101.67,493.34 97.79,492.09 93.91,493.34 93.90,489.26 91.52,485.96 95.39,484.69" fill="#6e2a14" stroke="#6e2a14" stroke-width="0.6" stroke-linejoin="miter"/><circle cx="97.79" cy="488.30" r="3.9" fill="#e63c22"/>
<text x="104.79" y="492.7" font-family="Liberation Sans, Arial, sans-serif" font-size="9.4" fill="#222">5:24pm</text>
<polygon points="174.39,481.40 176.80,484.69 180.67,485.96 178.28,489.26 178.27,493.34 174.39,492.09 170.51,493.34 170.50,489.26 168.11,485.96 171.98,484.69" fill="#6e2a14" stroke="#6e2a14" stroke-width="0.6" stroke-linejoin="miter"/><circle cx="174.39" cy="488.30" r="3.9" fill="#e63c22"/>
<text x="181.39" y="492.7" font-family="Liberation Sans, Arial, sans-serif" font-size="9.4" fill="#222">5:25pm</text>
<polygon points="250.99,481.40 253.39,484.69 257.26,485.96 254.88,489.26 254.87,493.34 250.99,492.09 247.11,493.34 247.09,489.26 244.71,485.96 248.58,484.69" fill="#6e2a14" stroke="#6e2a14" stroke-width="0.6" stroke-linejoin="miter"/><circle cx="250.99" cy="488.30" r="3.9" fill="#e63c22"/>
<text x="257.99" y="492.7" font-family="Liberation Sans, Arial, sans-serif" font-size="9.4" fill="#222">5:26pm</text>
<polygon points="327.58,481.40 329.99,484.69 333.86,485.96 331.47,489.26 331.46,493.34 327.58,492.09 323.70,493.34 323.69,489.26 321.31,485.96 325.18,484.69" fill="#6e2a14" stroke="#6e2a14" stroke-width="0.6" stroke-linejoin="miter"/><circle cx="327.58" cy="488.30" r="3.9" fill="#e63c22"/>
<text x="334.58" y="492.7" font-family="Liberation Sans, Arial, sans-serif" font-size="9.4" fill="#222">5:27pm</text>
<polygon points="404.18,481.40 406.58,484.69 410.46,485.96 408.07,489.26 408.06,493.34 404.18,492.09 400.30,493.34 400.29,489.26 397.90,485.96 401.77,484.69" fill="#6e2a14" stroke="#6e2a14" stroke-width="0.6" stroke-linejoin="miter"/><circle cx="404.18" cy="488.30" r="3.9" fill="#e63c22"/>
<text x="411.18" y="492.7" font-family="Liberation Sans, Arial, sans-serif" font-size="9.4" fill="#222">5:28pm</text>
<polygon points="480.78,481.40 483.18,484.69 487.05,485.96 484.67,489.26 484.65,493.34 480.78,492.09 476.90,493.34 476.88,489.26 474.50,485.96 478.37,484.69" fill="#6e2a14" stroke="#6e2a14" stroke-width="0.6" stroke-linejoin="miter"/><circle cx="480.78" cy="488.30" r="3.9" fill="#e63c22"/>
<text x="487.78" y="492.7" font-family="Liberation Sans, Arial, sans-serif" font-size="9.4" fill="#222">5:29pm</text>
<polygon points="557.37,481.40 559.78,484.69 563.65,485.96 561.26,489.26 561.25,493.34 557.37,492.09 553.49,493.34 553.48,489.26 551.09,485.96 554.97,484.69" fill="#6e2a14" stroke="#6e2a14" stroke-width="0.6" stroke-linejoin="miter"/><circle cx="557.37" cy="488.30" r="3.9" fill="#e63c22"/>
<text x="564.37" y="492.7" font-family="Liberation Sans, Arial, sans-serif" font-size="9.4" fill="#222">5:30pm</text>
<polygon points="633.97,481.40 636.37,484.69 640.25,485.96 637.86,489.26 637.85,493.34 633.97,492.09 630.09,493.34 630.08,489.26 627.69,485.96 631.56,484.69" fill="#6e2a14" stroke="#6e2a14" stroke-width="0.6" stroke-linejoin="miter"/><circle cx="633.97" cy="488.30" r="3.9" fill="#e63c22"/>
<text x="640.97" y="492.7" font-family="Liberation Sans, Arial, sans-serif" font-size="9.4" fill="#222">5:31pm</text>
<circle cx="101.14" cy="502.3" r="5.3" fill="#ffffc4" stroke="#8a8a8a" stroke-width="0.9"/>
<text x="108.14" y="506.4" font-family="Liberation Sans, Arial, sans-serif" font-size="9.4" fill="#222">6:27pm</text>
<circle cx="181.83" cy="502.3" r="5.3" fill="#ffffc4" stroke="#8a8a8a" stroke-width="0.9"/>
<text x="188.83" y="506.4" font-family="Liberation Sans, Arial, sans-serif" font-size="9.4" fill="#222">7:45pm</text>
<circle cx="262.47" cy="502.3" r="5.3" fill="#ffffc4" stroke="#8a8a8a" stroke-width="0.9"/>
<text x="269.47" y="506.4" font-family="Liberation Sans, Arial, sans-serif" font-size="9.4" fill="#222">9:02pm</text>
<circle cx="342.94" cy="502.3" r="5.3" fill="#ffffc4" stroke="#8a8a8a" stroke-width="0.9"/>
<text x="349.94" y="506.4" font-family="Liberation Sans, Arial, sans-serif" font-size="9.4" fill="#222">10:16pm</text>
<circle cx="423.26" cy="502.3" r="5.3" fill="#ffffc4" stroke="#8a8a8a" stroke-width="0.9"/>
<text x="430.26" y="506.4" font-family="Liberation Sans, Arial, sans-serif" font-size="9.4" fill="#222">11:27pm</text>
<circle cx="503.47" cy="502.3" r="5.3" fill="#ffffc4" stroke="#8a8a8a" stroke-width="0.9"/>
<text x="510.47" y="506.4" font-family="Liberation Sans, Arial, sans-serif" font-size="9.4" fill="#222">12:36am</text>
<circle cx="583.63" cy="502.3" r="5.3" fill="#ffffc4" stroke="#8a8a8a" stroke-width="0.9"/>
<text x="590.63" y="506.4" font-family="Liberation Sans, Arial, sans-serif" font-size="9.4" fill="#222">1:44am</text>
<circle cx="663.74" cy="502.3" r="5.3" fill="#ffffc4" stroke="#8a8a8a" stroke-width="0.9"/>
<text x="670.74" y="506.4" font-family="Liberation Sans, Arial, sans-serif" font-size="9.4" fill="#222">2:51am</text>
<circle cx="148.34" cy="515.4" r="5.4" fill="#c8c8b4" stroke="#777" stroke-width="0.9"/>
<text x="155.34" y="519.5" font-family="Liberation Sans, Arial, sans-serif" font-size="9.4" fill="#222">9:15am</text>
<circle cx="226.80" cy="515.4" r="5.4" fill="#c8c8b4" stroke="#777" stroke-width="0.9"/>
<text x="233.80" y="519.5" font-family="Liberation Sans, Arial, sans-serif" font-size="9.4" fill="#222">9:51am</text>
<circle cx="304.99" cy="515.4" r="5.4" fill="#c8c8b4" stroke="#777" stroke-width="0.9"/>
<text x="311.99" y="519.5" font-family="Liberation Sans, Arial, sans-serif" font-size="9.4" fill="#222">10:22am</text>
<circle cx="383.08" cy="515.4" r="5.4" fill="#c8c8b4" stroke="#777" stroke-width="0.9"/>
<text x="390.08" y="519.5" font-family="Liberation Sans, Arial, sans-serif" font-size="9.4" fill="#222">10:51am</text>
<circle cx="461.06" cy="515.4" r="5.4" fill="#c8c8b4" stroke="#777" stroke-width="0.9"/>
<text x="468.06" y="519.5" font-family="Liberation Sans, Arial, sans-serif" font-size="9.4" fill="#222">11:18am</text>
<circle cx="539.09" cy="515.4" r="5.4" fill="#c8c8b4" stroke="#777" stroke-width="0.9"/>
<text x="546.09" y="519.5" font-family="Liberation Sans, Arial, sans-serif" font-size="9.4" fill="#222">11:46am</text>
<circle cx="617.22" cy="515.4" r="5.4" fill="#c8c8b4" stroke="#777" stroke-width="0.9"/>
<text x="624.22" y="519.5" font-family="Liberation Sans, Arial, sans-serif" font-size="9.4" fill="#222">12:16pm</text>
<circle cx="695.57" cy="515.4" r="5.4" fill="#c8c8b4" stroke="#777" stroke-width="0.9"/>
<text x="702.57" y="519.5" font-family="Liberation Sans, Arial, sans-serif" font-size="9.4" fill="#222">12:50pm</text>
<text x="479.7" y="533" font-family="Liberation Sans, Arial, sans-serif" font-size="9.4" fill="#222" textLength="96" lengthAdjust="spacingAndGlyphs">Last Quarter | 10:41am</text>
</svg>
</body></html>
